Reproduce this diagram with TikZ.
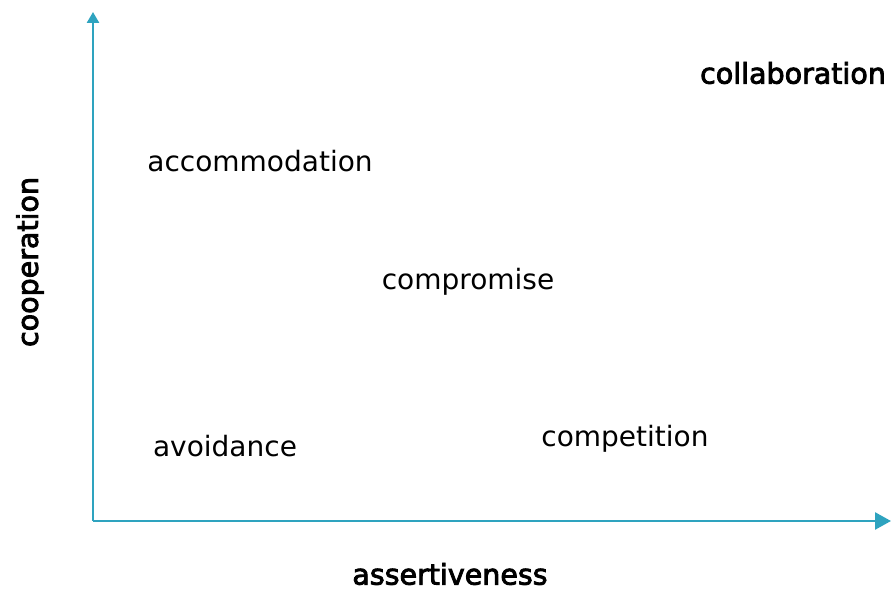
\documentclass[tikz,border=0pt]{standalone}
\usepackage{fontspec}
\setmainfont{DejaVu Sans}
\newfontfamily\medfont{DejaVu Sans}[FakeBold=3]
\usepackage{tikz}
\usetikzlibrary{arrows.meta}
\definecolor{axisblue}{HTML}{2EA3BF}

\begin{document}
\begin{tikzpicture}[x=1pt,y=1pt,
    mode/.style={font=\fontsize{28}{32}\selectfont},
    axislabel/.style={font=\medfont\fontsize{28.5}{32}\selectfont}]
    % Fix the canvas
    \useasboundingbox (0,0) rectangle (895,592);

    % Draw the axes
    \coordinate (origin) at (93,71);
    \coordinate (xend) at (891,71);
    \coordinate (yend) at (93,580);
    \draw[axisblue, line width=2.6pt, -{Triangle[length=16pt,width=17pt]}] (origin) -- (xend);
    \draw[axisblue, line width=2.6pt, -{Triangle[length=11pt,width=12pt]}] (origin) -- (yend);

    % Add axis labels
    \node[axislabel] (assert) at (450,18) {assertiveness};
    \node[axislabel, rotate=90] (coop) at (30,330) {cooperation};

    % Add the modes
    \node[axislabel] (collab) at (793,519) {collaboration};
    \node[mode] (accom) at (260,431) {accommodation};
    \node[mode] (compro) at (468,310) {compromise};
    \node[mode] (avoid) at (225,146) {avoidance};
    \node[mode] (compet) at (625,153) {competition};
\end{tikzpicture}
\end{document}
